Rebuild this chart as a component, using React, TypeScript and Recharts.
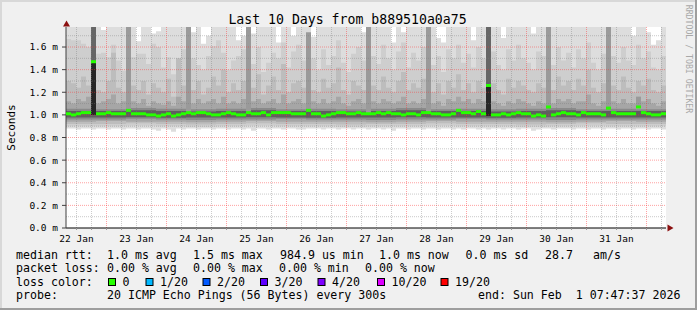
import { ComposedChart, Area, Scatter, XAxis, YAxis, ReferenceLine, CartesianGrid } from 'recharts';

const FONT = '"DejaVu Sans Mono", monospace';

// time axis: hours since 22 Jan 00:00, one sample every 2h, 10 days
const START_HOUR = 7.79; // 22 Jan 07:47:37
const END_HOUR = 247.79; // 1 Feb 07:47:37
const STEP_HOURS = 2;
const COLUMN_PX = 5; // 2h at 600px / 240h

const DAY_LABELS = ['22 Jan', '23 Jan', '24 Jan', '25 Jan', '26 Jan', '27 Jan', '28 Jan', '29 Jan', '30 Jan', '31 Jan'];
const Y_TICKS = [0, 0.2, 0.4, 0.6, 0.8, 1.0, 1.2, 1.4, 1.6];
const Y_MINOR = [0.1, 0.3, 0.5, 0.7, 0.9, 1.1, 1.3, 1.5, 1.7];

// median rtt (ms) per 2h column
const MEDIAN = [
  1.01, 1.0, 1.01, 1.02, 1.02, 1.47, 1.01, 1.01, 1.02, 1.01,
  1.01, 1.01, 1.04, 1.01, 1.01, 1.01, 1.0, 1.0, 0.99, 1.0,
  1.01, 0.99, 1.0, 1.01, 1.02, 1.01, 1.02, 1.02, 1.01, 1.0,
  1.0, 1.01, 1.02, 1.01, 1.0, 1.0, 1.02, 1.01, 1.01, 1.02,
  1.0, 1.02, 1.02, 1.02, 1.02, 1.01, 1.01, 1.01, 1.04, 1.01,
  1.01, 0.99, 1.0, 1.01, 1.02, 1.02, 1.01, 1.01, 1.02, 1.01,
  1.01, 1.01, 1.02, 1.01, 1.02, 1.01, 1.01, 1.0, 1.01, 1.01,
  1.0, 1.02, 1.02, 1.01, 1.01, 1.0, 1.0, 1.01, 1.04, 1.02,
  1.02, 1.01, 1.03, 1.01, 1.26, 1.0, 1.0, 1.01, 1.0, 1.01,
  1.02, 1.01, 1.01, 0.99, 1.0, 0.99, 1.07, 1.0, 1.01, 1.02,
  1.01, 1.01, 1.0, 1.02, 1.01, 1.01, 1.01, 1.0, 1.06, 1.02,
  1.01, 1.01, 1.01, 1.01, 1.07, 1.02, 1.01, 1.0, 1.0, 1.01,
];

// smoke: highest ping per column
const SMOKE_TOP = [
  1.78, 1.78, 1.78, 1.78, 1.78, 1.78, 1.78, 1.75, 1.78, 1.78,
  1.78, 1.78, 1.78, 1.78, 1.65, 1.78, 1.78, 1.72, 1.74, 1.78,
  1.78, 1.78, 1.78, 1.78, 1.78, 1.73, 1.78, 1.63, 1.7, 1.78,
  1.78, 1.78, 1.78, 1.78, 1.66, 1.7, 1.78, 1.72, 1.78, 1.78,
  1.78, 1.78, 1.64, 1.78, 1.78, 1.7, 1.78, 1.78, 1.78, 1.69,
  1.78, 1.78, 1.78, 1.78, 1.78, 1.78, 1.78, 1.78, 1.78, 1.73,
  1.78, 1.78, 1.78, 1.78, 1.78, 1.64, 1.78, 1.73, 1.78, 1.78,
  1.78, 1.78, 1.78, 1.78, 1.68, 1.64, 1.78, 1.78, 1.78, 1.78,
  1.78, 1.66, 1.78, 1.78, 1.78, 1.78, 1.78, 1.68, 1.78, 1.78,
  1.78, 1.78, 1.78, 1.72, 1.78, 1.78, 1.78, 1.78, 1.78, 1.78,
  1.78, 1.78, 1.78, 1.78, 1.78, 1.78, 1.78, 1.78, 1.78, 1.78,
  1.78, 1.78, 1.78, 1.7, 1.78, 1.78, 1.73, 1.62, 1.66, 1.78,
];

const SMOKE_UPPER = [
  1.67, 1.66, 1.66, 1.63, 1.6, 1.7, 1.54, 1.55, 1.51, 1.62,
  1.48, 1.39, 1.7, 1.51, 1.54, 1.54, 1.45, 1.63, 1.6, 1.42,
  1.51, 1.36, 1.47, 1.58, 1.72, 1.5, 1.44, 1.4, 1.52, 1.61,
  1.66, 1.55, 1.4, 1.48, 1.52, 1.58, 1.72, 1.45, 1.6, 1.38,
  1.46, 1.55, 1.5, 1.64, 1.42, 1.56, 1.62, 1.48, 1.7, 1.5,
  1.4, 1.58, 1.44, 1.52, 1.66, 1.46, 1.38, 1.54, 1.6, 1.48,
  1.72, 1.52, 1.45, 1.62, 1.5, 1.4, 1.56, 1.64, 1.42, 1.55,
  1.48, 1.6, 1.72, 1.44, 1.52, 1.38, 1.58, 1.5, 1.62, 1.46,
  1.54, 1.42, 1.6, 1.5, 1.72, 1.56, 1.44, 1.4, 1.58, 1.48,
  1.62, 1.5, 1.46, 1.4, 1.56, 1.52, 1.72, 1.44, 1.6, 1.48,
  1.55, 1.42, 1.58, 1.5, 1.64, 1.46, 1.4, 1.54, 1.72, 1.52,
  1.46, 1.6, 1.48, 1.44, 1.62, 1.5, 1.56, 1.42, 1.4, 1.52,
];

const SMOKE_MID = [
  1.3, 1.28, 1.24, 1.34, 1.26, 1.6, 1.22, 1.2, 1.3, 1.55,
  1.24, 1.2, 1.45, 1.26, 1.22, 1.3, 1.18, 1.28, 1.24, 1.2,
  1.32, 1.16, 1.5, 1.26, 1.6, 1.22, 1.3, 1.18, 1.24, 1.34,
  1.26, 1.4, 1.2, 1.28, 1.22, 1.3, 1.6, 1.24, 1.36, 1.18,
  1.26, 1.34, 1.22, 1.45, 1.2, 1.28, 1.3, 1.24, 1.55, 1.22,
  1.2, 1.32, 1.24, 1.28, 1.42, 1.22, 1.18, 1.3, 1.26, 1.22,
  1.6, 1.26, 1.22, 1.34, 1.24, 1.2, 1.3, 1.38, 1.22, 1.28,
  1.24, 1.32, 1.55, 1.2, 1.28, 1.18, 1.3, 1.24, 1.36, 1.22,
  1.28, 1.2, 1.3, 1.24, 1.6, 1.28, 1.22, 1.18, 1.32, 1.24,
  1.3, 1.26, 1.22, 1.2, 1.28, 1.24, 1.6, 1.22, 1.34, 1.26,
  1.3, 1.22, 1.32, 1.26, 1.4, 1.24, 1.2, 1.28, 1.6, 1.26,
  1.22, 1.34, 1.24, 1.2, 1.3, 1.26, 1.32, 1.22, 1.2, 1.26,
];

const SMOKE_LOW = [
  1.12, 1.1, 1.14, 1.12, 1.16, 1.4, 1.1, 1.12, 1.14, 1.18,
  1.1, 1.12, 1.22, 1.12, 1.1, 1.14, 1.08, 1.12, 1.1, 1.09,
  1.12, 1.08, 1.16, 1.12, 1.3, 1.1, 1.14, 1.1, 1.12, 1.14,
  1.1, 1.16, 1.1, 1.12, 1.1, 1.14, 1.3, 1.12, 1.14, 1.1,
  1.12, 1.14, 1.1, 1.18, 1.1, 1.12, 1.14, 1.1, 1.25, 1.12,
  1.1, 1.14, 1.1, 1.12, 1.16, 1.1, 1.08, 1.12, 1.14, 1.1,
  1.28, 1.12, 1.1, 1.14, 1.12, 1.1, 1.12, 1.16, 1.1, 1.12,
  1.1, 1.14, 1.24, 1.1, 1.12, 1.08, 1.14, 1.12, 1.16, 1.12,
  1.14, 1.1, 1.14, 1.12, 1.3, 1.12, 1.1, 1.08, 1.12, 1.1,
  1.14, 1.12, 1.1, 1.08, 1.12, 1.1, 1.28, 1.1, 1.14, 1.12,
  1.14, 1.1, 1.12, 1.12, 1.18, 1.1, 1.08, 1.12, 1.28, 1.12,
  1.1, 1.14, 1.1, 1.1, 1.16, 1.12, 1.14, 1.1, 1.08, 1.12,
];

// lowest ping per column
const SMOKE_FLOOR = [
  0.88, 0.88, 0.87, 0.88, 0.88, 0.87, 0.88, 0.88, 0.87, 0.88,
  0.88, 0.87, 0.88, 0.88, 0.87, 0.88, 0.88, 0.87, 0.86, 0.88,
  0.87, 0.85, 0.88, 0.87, 0.88, 0.88, 0.87, 0.88, 0.88, 0.87,
  0.88, 0.88, 0.87, 0.88, 0.88, 0.87, 0.88, 0.86, 0.88, 0.88,
  0.87, 0.88, 0.88, 0.87, 0.88, 0.88, 0.87, 0.87, 0.88, 0.88,
  0.88, 0.87, 0.88, 0.88, 0.87, 0.88, 0.88, 0.87, 0.88, 0.88,
  0.87, 0.88, 0.88, 0.87, 0.88, 0.86, 0.88, 0.88, 0.87, 0.88,
  0.88, 0.87, 0.88, 0.88, 0.87, 0.88, 0.88, 0.87, 0.88, 0.87,
  0.88, 0.88, 0.87, 0.88, 0.87, 0.88, 0.88, 0.87, 0.88, 0.88,
  0.87, 0.88, 0.88, 0.86, 0.87, 0.88, 0.88, 0.87, 0.88, 0.88,
  0.88, 0.87, 0.88, 0.88, 0.87, 0.88, 0.88, 0.87, 0.88, 0.88,
  0.87, 0.88, 0.88, 0.87, 0.88, 0.88, 0.87, 0.88, 0.88, 0.87,
];

// inner bands, one value per 12h
const BAND2_LOW = [0.9, 0.9, 0.905, 0.9, 0.895, 0.9, 0.905, 0.9, 0.9, 0.895, 0.9, 0.9, 0.905, 0.9, 0.9, 0.895, 0.9, 0.905, 0.9, 0.9];
const BAND3_LOW = [0.92, 0.92, 0.925, 0.92, 0.915, 0.92, 0.925, 0.92, 0.92, 0.915, 0.92, 0.92, 0.925, 0.92, 0.92, 0.915, 0.92, 0.925, 0.92, 0.92];
const BAND4_LOW = [0.94, 0.945, 0.94, 0.94, 0.935, 0.94, 0.945, 0.94, 0.94, 0.94, 0.935, 0.94, 0.945, 0.94, 0.94, 0.94, 0.935, 0.94, 0.945, 0.94];
const BAND5_LOW = [0.96, 0.96, 0.965, 0.96, 0.955, 0.96, 0.96, 0.965, 0.96, 0.96, 0.955, 0.96, 0.96, 0.965, 0.96, 0.96, 0.955, 0.96, 0.96, 0.96];
const BAND5_HIGH = [1.055, 1.05, 1.06, 1.055, 1.05, 1.055, 1.06, 1.05, 1.055, 1.05, 1.055, 1.06, 1.05, 1.055, 1.05, 1.055, 1.06, 1.05, 1.055, 1.05];
const CORE_LOW = [0.978, 0.978, 0.98, 0.975, 0.978, 0.978, 0.98, 0.978, 0.975, 0.978, 0.978, 0.98, 0.978, 0.978, 0.975, 0.978, 0.98, 0.978, 0.978, 0.978];
const CORE_HIGH = [1.035, 1.035, 1.04, 1.035, 1.03, 1.035, 1.04, 1.035, 1.035, 1.03, 1.035, 1.04, 1.035, 1.035, 1.03, 1.035, 1.04, 1.035, 1.035, 1.035];

// columns where the pings spread over the whole range
const SPIKE_AT = [12, 24, 36, 48, 60, 72, 96, 108, 114];
const SPIKE_TOP = [1.78, 1.78, 1.78, 1.73, 1.78, 1.78, 1.78, 1.78, 1.16];
const STRONG_AT = [5, 84];
const STRONG_TOP = [1.78, 1.78];
const STRONG_BASE = [1.0, 0.99];

const LOSS_LABELS = ['0', '1/20', '2/20', '3/20', '4/20', '10/20', '19/20'];
const LOSS_COLORS = ['#26ff00', '#00b8ff', '#0059ff', '#5e00ff', '#7e00ff', '#dd00ff', '#ff0000'];
const LOSS_BOX_X = [108, 145.5, 202.5, 260, 317.5, 377, 440.5];

const N = MEDIAN.length;
const HOURS = Array.from({ length: N + 1 }, (_, i) => START_HOUR + STEP_HOURS * i);

const rows = HOURS.map((t, i) => {
  const k = Math.min(i, N - 1);
  const h = Math.floor(k / 6);
  const row: any = {
    t,
    l1: [SMOKE_FLOOR[k], SMOKE_TOP[k]],
    l2: [BAND2_LOW[h], SMOKE_UPPER[k]],
    l3: [BAND3_LOW[h], SMOKE_MID[k]],
    l4: [BAND4_LOW[h], SMOKE_LOW[k]],
    l5: [BAND5_LOW[h], BAND5_HIGH[h]],
    l6: [CORE_LOW[h], CORE_HIGH[h]],
  };
  // a column is drawn from its own sample to the next one
  const s = SPIKE_AT.findIndex((c) => c === i || c === i - 1);
  if (s >= 0) row.spike = [MEDIAN[SPIKE_AT[s]], SPIKE_TOP[s]];
  const g = STRONG_AT.findIndex((c) => c === i || c === i - 1);
  if (g >= 0) {
    const m = MEDIAN[STRONG_AT[g]];
    row.strong = [m, STRONG_TOP[g]];
    row.core = [STRONG_BASE[g], m];
  }
  return row;
});

const medianRows = MEDIAN.map((m, i) => ({ t: HOURS[i], median: m }));

const MIDNIGHTS = DAY_LABELS.map((_, i) => 24 * (i + 1));
const SIX_HOURS: number[] = [];
for (let h = 12; h < END_HOUR; h += 6) SIX_HOURS.push(h);
const MINOR_HOURS = SIX_HOURS.filter((h) => h % 24 !== 0);

const dayLabel = (h: number) => (h % 24 === 12 ? DAY_LABELS[(h - 12) / 24] : '');

const MedianMark = (props: any) => (
  <rect x={props.cx} y={props.cy - 1.5} width={COLUMN_PX} height={3} fill="#26ff00" />
);

const LAYERS = [
  { key: 'l1', fill: '#dddddd' },
  { key: 'l2', fill: '#cecece' },
  { key: 'l3', fill: '#bdbdbd' },
  { key: 'l4', fill: '#a6a6a6' },
  { key: 'l5', fill: '#8a8a8a' },
  { key: 'l6', fill: '#5f5f5f' },
  { key: 'spike', fill: '#9a9a9a' },
  { key: 'strong', fill: '#666666' },
  { key: 'core', fill: '#262626' },
];

export default function App() {
  const legendRows = [
    { y: 258.5, items: [[16, 'median rtt:'], [107, '1.0 ms avg'], [193, '1.5 ms max'], [280, '984.9 us min'], [379, '1.0 ms now'], [465.5, '0.0 ms sd'], [545, '28.7'], [593, 'am/s']] },
    { y: 272, items: [[16, 'packet loss:'], [107, '0.00 % avg'], [193, '0.00 % max'], [279, '0.00 % min'], [365, '0.00 % now']] },
    { y: 285.5, items: [[16, 'loss color:']] },
    { y: 299, items: [[16, 'probe:'], [107, '20 ICMP Echo Pings (56 Bytes) every 300s'], [478, 'end: Sun Feb  1 07:47:37 2026']] },
  ];

  return (
    <div style={{ position: 'absolute', left: 0, top: 0, width: 697, height: 310, background: '#f0f0f0', fontFamily: FONT }}>
      <ComposedChart
        width={697}
        height={310}
        data={rows}
        margin={{ top: 27, right: 31, bottom: 0, left: 0 }}
        style={{ fontFamily: FONT }}
      >
        <CartesianGrid fill="#ffffff" horizontal={false} vertical={false} stroke="none" />
        <XAxis
          dataKey="t"
          type="number"
          domain={[START_HOUR, END_HOUR]}
          allowDataOverflow
          ticks={SIX_HOURS}
          tickFormatter={dayLabel}
          height={82}
          tickSize={2}
          tickMargin={5}
          interval={0}
          axisLine={{ stroke: '#000000' }}
          tickLine={{ stroke: '#999999' }}
          tick={{ fontSize: 9.5, fill: '#000000', fontFamily: FONT }}
        />
        <YAxis
          type="number"
          domain={[0, 1.777]}
          allowDataOverflow
          ticks={Y_TICKS}
          interval={0}
          width={66}
          tickSize={4}
          tickMargin={4}
          tickFormatter={(v: number) => `${v.toFixed(1)} m`}
          axisLine={{ stroke: '#404040' }}
          tickLine={{ stroke: '#404040' }}
          tick={{ fontSize: 9.5, fill: '#000000', fontFamily: FONT }}
        />
        {LAYERS.map((l) => (
          <Area
            key={l.key}
            dataKey={l.key}
            type="stepAfter"
            stroke="none"
            fill={l.fill}
            fillOpacity={1}
            dot={false}
            activeDot={false}
            isAnimationActive={false}
          />
        ))}
        {Y_MINOR.map((v) => (
          <ReferenceLine key={`ym${v}`} y={v} stroke="#7a7a7a" strokeOpacity={0.4} strokeDasharray="1 1" />
        ))}
        {MINOR_HOURS.map((h) => (
          <ReferenceLine key={`xm${h}`} x={h} stroke="#7a7a7a" strokeOpacity={0.4} strokeDasharray="1 1" />
        ))}
        {Y_TICKS.slice(1).map((v) => (
          <ReferenceLine key={`yM${v}`} y={v} stroke="#ff3030" strokeOpacity={0.45} strokeDasharray="1 1" />
        ))}
        {MIDNIGHTS.map((h) => (
          <ReferenceLine key={`xM${h}`} x={h} stroke="#ff3030" strokeOpacity={0.45} strokeDasharray="1 1" />
        ))}
        <Scatter data={medianRows} dataKey="median" shape={MedianMark} isAnimationActive={false} />
      </ComposedChart>

      <svg width={697} height={310} style={{ position: 'absolute', left: 0, top: 0, pointerEvents: 'none' }}>
        <rect x={0} y={0} width={697} height={2} fill="#d8d8d8" />
        <rect x={0} y={0} width={2} height={310} fill="#d8d8d8" />
        <rect x={0} y={308} width={697} height={2} fill="#9e9e9e" />
        <rect x={695} y={0} width={2} height={310} fill="#9e9e9e" />
        <polygon points="63,26.5 66.5,20.5 70,26.5" fill="#8b1010" />
        <polygon points="667.5,224.5 673.5,228 667.5,231.5" fill="#8b1010" />
        <text x={347.5} y={23.5} textAnchor="middle" fontSize={13.2} fontFamily={FONT} fill="#000">
          Last 10 Days from b889510a0a75
        </text>
        <text x={14.5} y={127.5} textAnchor="middle" fontSize={11} fontFamily={FONT} fill="#000" transform="rotate(-90 14.5 127.5)">
          Seconds
        </text>
        <text x={685.5} y={59} textAnchor="middle" fontSize={8.2} fontFamily={FONT} fill="#a8a8a8" transform="rotate(90 685.5 59)">
          RRDTOOL / TOBI OETIKER
        </text>
        {legendRows.map((r) =>
          r.items.map(([x, s]) => (
            <text key={`${r.y}-${x}`} x={x as number} y={r.y} fontSize={11.6} fontFamily={FONT} fill="#000" style={{ whiteSpace: 'pre' }}>
              {s}
            </text>
          )),
        )}
        {LOSS_LABELS.map((lab, i) => (
          <g key={lab}>
            <rect x={LOSS_BOX_X[i] + 0.5} y={278.5} width={7} height={7} fill={LOSS_COLORS[i]} stroke="#000" strokeWidth={1} />
            <text x={LOSS_BOX_X[i] + 14.5} y={285.5} fontSize={11.6} fontFamily={FONT} fill="#000">
              {lab}
            </text>
          </g>
        ))}
      </svg>
    </div>
  );
}
